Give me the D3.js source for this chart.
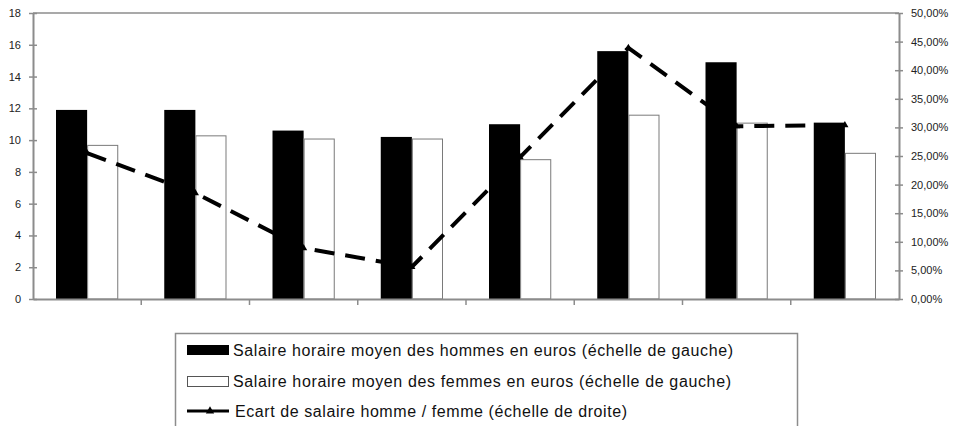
<!DOCTYPE html>
<html>
<head>
<meta charset="utf-8">
<script src="https://cdn.jsdelivr.net/npm/d3@7"></script>
<style>
  body { margin: 0; background: #fff; }
  svg { display: block; font-family: "Liberation Sans", Arial, sans-serif; }
</style>
</head>
<body>
<div id="graf"></div>
<script>
// valeurs
const categories = ["1", "2", "3", "4", "5", "6", "7", "8"]
const hommes = [11.9, 11.9, 10.6, 10.2, 11.0, 15.6, 14.9, 11.1]
const femmes = [9.7, 10.3, 10.1, 10.1, 8.8, 11.6, 11.1, 9.2]
const ecart = [0.255, 0.185, 0.089, 0.056, 0.248, 0.439, 0.302, 0.304]
const leftTicks = [0, 2, 4, 6, 8, 10, 12, 14, 16, 18]
const rightTicks = [0, 0.05, 0.10, 0.15, 0.20, 0.25, 0.30, 0.35, 0.40, 0.45, 0.50]
const legendLabels = [
  "Salaire horaire moyen des hommes en euros (échelle de gauche)",
  "Salaire horaire moyen des femmes en euros (échelle de gauche)",
  "Ecart de salaire homme / femme (échelle de droite)"
]

const width = 954, height = 426
const margin = ({top: 13, right: 55, bottom: 127, left: 33})
const axisColor = "#8c8c8c"

const data = categories.map((c, i) => ({cat: c, h: hommes[i], f: femmes[i], e: ecart[i]}))

const x0 = d3.scaleBand()
    .domain(categories)
    .range([margin.left, width - margin.right])
    .paddingInner(0.425)
    .paddingOuter(0.2125)

const x1 = d3.scaleBand()
    .domain(["h", "f"])
    .range([0, x0.bandwidth()])

const y = d3.scaleLinear()
    .domain([0, 18])
    .range([height - margin.bottom, margin.top])

const y2 = d3.scaleLinear()
    .domain([0, 0.5])
    .range([height - margin.bottom, margin.top])

const fmtPct = v => d3.format(".2f")(v * 100).replace(".", ",") + "%"

const svg = d3.select("#graf").append("svg")
    .attr("width", width)
    .attr("height", height)
    .attr("viewBox", [0, 0, width, height])

// cadre haut
svg.append("line")
    .attr("x1", margin.left).attr("x2", width - margin.right)
    .attr("y1", y(18)).attr("y2", y(18))
    .attr("stroke", axisColor).attr("stroke-width", 1.5)

// barres
const groups = svg.append("g")
  .selectAll("g")
  .data(data)
  .join("g")
    .attr("transform", d => `translate(${x0(d.cat)},0)`)

groups.append("rect")
    .attr("x", x1("h"))
    .attr("width", x1.bandwidth())
    .attr("y", d => y(d.h))
    .attr("height", d => y(0) - y(d.h))
    .attr("fill", "#000")

groups.append("rect")
    .attr("x", x1("f") + 0.5)
    .attr("width", x1.bandwidth() - 1)
    .attr("y", d => y(d.f) + 0.5)
    .attr("height", d => y(0) - y(d.f) - 0.5)
    .attr("fill", "#fff")
    .attr("stroke", "#7a7a7a")
    .attr("stroke-width", 1)

// axe gauche
const yAxis = g => g
    .attr("transform", `translate(${margin.left},0)`)
    .call(d3.axisLeft(y).tickValues(leftTicks).tickSizeInner(4).tickSizeOuter(0).tickPadding(8))
    .call(g => g.selectAll(".tick line").attr("x2", 4).attr("x1", -4))

svg.append("g").call(yAxis)

// axe droit
const y2Axis = g => g
    .attr("transform", `translate(${width - margin.right},0)`)
    .call(d3.axisRight(y2).tickValues(rightTicks).tickFormat(fmtPct).tickSizeInner(4).tickSizeOuter(0).tickPadding(8))
    .call(g => g.selectAll(".tick line").attr("x1", -4).attr("x2", 4))

svg.append("g").call(y2Axis)

// axe bas
const xAxis = g => g
    .attr("transform", `translate(0,${height - margin.bottom})`)
    .call(d3.axisBottom(x0).tickValues([]).tickSizeOuter(0))

svg.append("g").call(xAxis)

svg.append("g")
  .selectAll("line")
  .data(categories.slice(1))
  .join("line")
    .attr("x1", d => x0(d) - x0.step() * x0.paddingInner() / 2)
    .attr("x2", d => x0(d) - x0.step() * x0.paddingInner() / 2)
    .attr("y1", y(0))
    .attr("y2", y(0) + 6)
    .attr("stroke", axisColor)
    .attr("stroke-width", 1.5)

svg.selectAll(".domain").attr("stroke", axisColor).attr("stroke-width", 2)
svg.selectAll(".tick line").attr("stroke", axisColor).attr("stroke-width", 1.5)
svg.selectAll(".tick text").attr("fill", "#222").attr("font-size", 11)

// courbe d'écart
const line = d3.line()
    .x(d => x0(d.cat) + x0.bandwidth() / 2)
    .y(d => y2(d.e))

svg.append("path")
    .attr("fill", "none")
    .attr("stroke", "#000")
    .attr("stroke-width", 4)
    .attr("stroke-dasharray", "20,11")
    .attr("d", line(data))

svg.append("g")
  .selectAll("path")
  .data(data)
  .join("path")
    .attr("transform", d => `translate(${x0(d.cat) + x0.bandwidth() / 2},${y2(d.e)})`)
    .attr("d", d3.symbol(d3.symbolTriangle, 22))
    .attr("fill", "#000")

// légende
const legend = svg.append("g")

legend.append("rect")
    .attr("x", 175.5).attr("y", 333.5)
    .attr("width", 622).attr("height", 100)
    .attr("fill", "#fff")
    .attr("stroke", axisColor).attr("stroke-width", 1.5)

const rowY = [350, 381, 411]
const textStart = [233, 233, 235]
const textEnd = [733, 731, 627]

legend.append("rect")
    .attr("x", 187).attr("y", 345).attr("width", 42).attr("height", 10)
    .attr("fill", "#000")

legend.append("rect")
    .attr("x", 187.5).attr("y", 376.5).attr("width", 41).attr("height", 10)
    .attr("fill", "#fff").attr("stroke", "#555").attr("stroke-width", 1)

legend.append("line")
    .attr("x1", 187).attr("x2", 229).attr("y1", 411).attr("y2", 411)
    .attr("stroke", "#000").attr("stroke-width", 3)

legend.append("path")
    .attr("transform", "translate(210,411)")
    .attr("d", d3.symbol(d3.symbolTriangle, 30))
    .attr("fill", "#000")

legend.selectAll("text")
  .data(legendLabels)
  .join("text")
    .attr("x", (d, i) => textStart[i])
    .attr("y", (d, i) => rowY[i])
    .attr("dy", "0.35em")
    .attr("font-size", 16)
    .attr("fill", "#111")
    .attr("textLength", (d, i) => textEnd[i] - textStart[i])
    .attr("lengthAdjust", "spacing")
    .text(d => d)
</script>
</body>
</html>
